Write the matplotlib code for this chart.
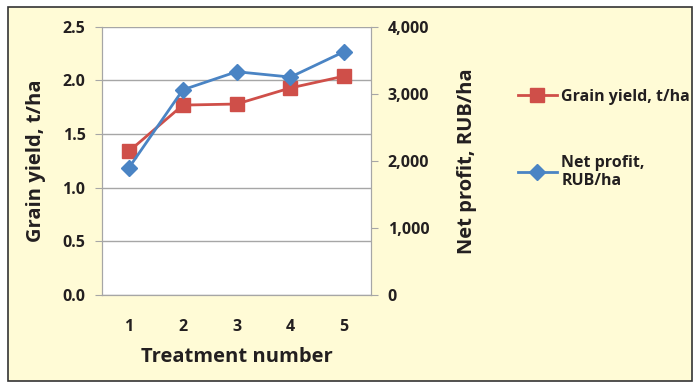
import matplotlib.pyplot as plt
from matplotlib.patches import Rectangle
from matplotlib.ticker import FuncFormatter

treatments = [1, 2, 3, 4, 5]
grain_yield = [1.34, 1.77, 1.78, 1.93, 2.04]
net_profit = [1900, 3060, 3330, 3250, 3630]

red = '#cf4f49'
blue = '#4a84c4'
bg = '#fffbd6'
txt = '#231f20'
plt.rcParams['font.family'] = ['Open Sans', 'DejaVu Sans']

fig = plt.figure(figsize=(6.95, 3.83), dpi=100)
fig.patch.set_facecolor('white')
fig.patches.append(Rectangle((0.011, 0.005), 0.984, 0.977, transform=fig.transFigure,
                             facecolor=bg, edgecolor='#333333', linewidth=1.2, zorder=-10))

ax = fig.add_axes([0.147, 0.23, 0.387, 0.70])
ax.set_facecolor('white')
ax2 = ax.twinx()

l1, = ax.plot(treatments, grain_yield, color=red, marker='s', markersize=10, linewidth=2, zorder=3)
l2, = ax2.plot(treatments, net_profit, color=blue, marker='D', markersize=8, linewidth=2, zorder=3)

ax.set_xlim(0.5, 5.5)
ax.set_ylim(0, 2.5)
ax2.set_ylim(0, 4000)
ax.set_yticks([0, 0.5, 1.0, 1.5, 2.0, 2.5])
ax.yaxis.set_major_formatter(FuncFormatter(lambda v, p: f'{v:.1f}'))
ax2.set_yticks([0, 1000, 2000, 3000, 4000])
ax2.yaxis.set_major_formatter(FuncFormatter(lambda v, p: f'{int(v):,}'))
ax.set_xticks(treatments)
ax.grid(axis='y', color='#a6a6a6', linewidth=1)
ax.set_axisbelow(True)

for a in (ax, ax2):
    for s in a.spines.values():
        s.set_color('#a6a6a6')
    a.spines['top'].set_visible(False)
ax.tick_params(axis='y', length=5, color='#a6a6a6', labelsize=11.5, pad=7)
ax2.tick_params(axis='y', length=5, color='#a6a6a6', labelsize=11.5, pad=7)
ax.tick_params(axis='x', length=0, labelsize=11.5, pad=17)
for lab in ax.get_xticklabels() + ax.get_yticklabels() + ax2.get_yticklabels():
    lab.set_fontweight('bold')
    lab.set_color(txt)

ax.set_xlabel('Treatment number', fontsize=14.5, fontweight='bold', color=txt, labelpad=9)
ax.set_ylabel('Grain yield, t/ha', fontsize=14.5, fontweight='bold', color=txt, labelpad=12)
ax2.set_ylabel('Net profit, RUB/ha', fontsize=14.5, fontweight='bold', color=txt, labelpad=20)

fig.legend([l1, l2], ['Grain yield, t/ha', 'Net profit,\nRUB/ha'], loc='upper left',
           bbox_to_anchor=(0.725, 0.805), frameon=False, labelspacing=3.1,
           handlelength=2.4, handletextpad=0.3, labelcolor=txt,
           prop={'weight': 'bold', 'size': 11.5})

fig.savefig('out.png', dpi=100, facecolor=fig.get_facecolor())
